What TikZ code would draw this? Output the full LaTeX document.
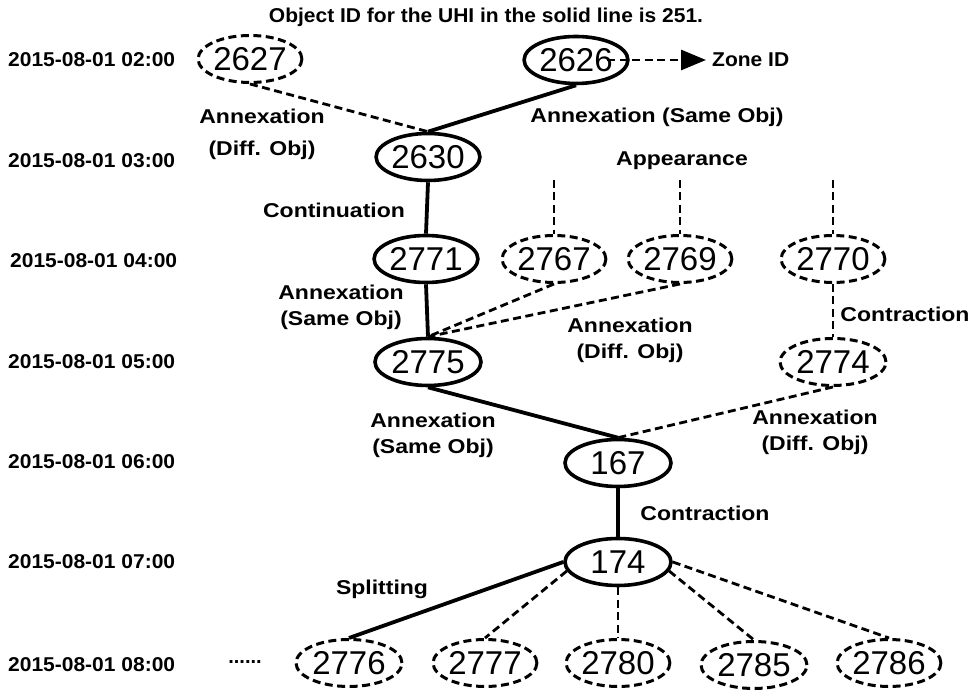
\documentclass[tikz,border=0pt]{standalone}
\usepackage{fontspec}
\setmainfont{Liberation Sans}
\newfontfamily\lblfont[FakeStretch=1.15]{Liberation Sans}
\newfontfamily\hdfont[FakeStretch=1.05]{Liberation Sans}
\usetikzlibrary{arrows.meta,shapes.geometric}

\begin{document}
\begin{tikzpicture}[x=1pt,y=1pt, every node/.style={inner sep=0pt},
  obj/.style={ellipse, draw, line width=3.6pt, minimum width=98pt, minimum height=47pt, font=\fontsize{33}{33}\selectfont},
  dashobj/.style={obj, line width=3pt, dash pattern=on 8pt off 4.5pt},
  wideobj/.style={minimum width=106pt},
  solidedge/.style={line width=3.8pt},
  dashedge/.style={line width=2.8pt, dash pattern=on 8pt off 4.5pt},
  tlbl/.style={anchor=west, font=\hdfont\bfseries\fontsize{20}{24}\selectfont},
  evt/.style={font=\lblfont\bfseries\fontsize{20}{26}\selectfont, align=center}]
\useasboundingbox (0,0) rectangle (975,693);
% title and time axis
\node[font=\hdfont\bfseries\fontsize{20}{24}\selectfont] (title) at (486,676) {Object ID for the UHI in the solid line is 251.};
\node[tlbl] (t02) at (8,633) {2015-08-01 02:00};
\node[tlbl] (t03) at (8,532) {2015-08-01 03:00};
\node[tlbl] (t04) at (10,432) {2015-08-01 04:00};
\node[tlbl] (t05) at (8,331) {2015-08-01 05:00};
\node[tlbl] (t06) at (8,231) {2015-08-01 06:00};
\node[tlbl] (t07) at (8,131) {2015-08-01 07:00};
\node[tlbl] (t08) at (8,28) {2015-08-01 08:00};
% objects
\node[dashobj] (n2627) at (250,634) {2627};
\node[obj] (n2626) at (576,633) {2626};
\node[obj] (n2630) at (428,536) {2630};
\node[obj] (n2771) at (426,434) {2771};
\node[dashobj] (n2767) at (554,434) {2767};
\node[dashobj] (n2769) at (680,434) {2769};
\node[dashobj] (n2770) at (833,434) {2770};
\node[obj, wideobj] (n2775) at (428,331) {2775};
\node[dashobj, wideobj] (n2774) at (833,331) {2774};
\node[obj, wideobj] (n167) at (618,230) {167};
\node[obj, wideobj] (n174) at (618,131) {174};
\node[dashobj, wideobj] (n2776) at (349,30) {2776};
\node[dashobj] (n2777) at (485,30) {2777};
\node[dashobj] (n2780) at (618,30) {2780};
\node[dashobj, wideobj] (n2785) at (754,28) {2785};
\node[dashobj] (n2786) at (889,30) {2786};
\node[font=\hdfont\bfseries\fontsize{20}{24}\selectfont, anchor=west] (zone) at (712,633) {Zone ID};
\node[font=\bfseries\fontsize{20}{24}\selectfont] (dots) at (245,31) {......};
% free ends of the appearance lines
\coordinate (a2767) at (554,513);
\coordinate (a2769) at (680,513);
\coordinate (a2770) at (833,513);
% links
\draw[dashedge, -{Triangle[length=25pt,width=20pt]}] ([xshift=31pt]n2626.center) -- ([xshift=-6pt]zone.west);
\draw[dashedge] (n2627.south) -- (n2630.north);
\draw[solidedge] (n2626.south) -- (n2630.north);
\draw[solidedge] (n2630.south) -- (n2771.north);
\draw[solidedge] (n2771.south) -- (n2775.north);
\draw[dashedge] (a2767) -- (n2767.north);
\draw[dashedge] (a2769) -- (n2769.north);
\draw[dashedge] (a2770) -- (n2770.north);
\draw[dashedge] (n2767.south) -- (n2775.north);
\draw[dashedge] (n2769.south) -- (n2775.north);
\draw[dashedge] (n2770.south) -- (n2774.north);
\draw[solidedge] (n2775.south) -- (n167.north);
\draw[dashedge] (n2774.south) -- (n167.north);
\draw[solidedge] (n167.south) -- (n174.north);
\draw[solidedge] (n174.west) -- (n2776.north);
\draw[dashedge] (n174.190) -- (n2777.north);
\draw[dashedge] (n174.south) -- (n2780.north);
\draw[dashedge] (n174.-10) -- (n2785.north);
\draw[dashedge] (n174.east) -- (n2786.north);
% event labels
\node[evt] (ev1) at (262,559) {Annexation\\[6pt](Diff. Obj)};
\node[evt] (ev2) at (657,576) {Annexation (Same Obj)};
\node[evt] (ev3) at (682,532) {Appearance};
\node[evt] (ev4) at (334,483) {Continuation};
\node[evt] (ev5) at (341,386) {Annexation\\(Same Obj)};
\node[evt] (ev6) at (630,353) {Annexation\\(Diff. Obj)};
\node[evt] (ev7) at (905,379) {Contraction};
\node[evt] (ev8) at (433,258) {Annexation\\(Same Obj)};
\node[evt] (ev9) at (815,261) {Annexation\\(Diff. Obj)};
\node[evt] (ev10) at (705,180) {Contraction};
\node[evt] (ev11) at (382,104) {Splitting};
\end{tikzpicture}
\end{document}
